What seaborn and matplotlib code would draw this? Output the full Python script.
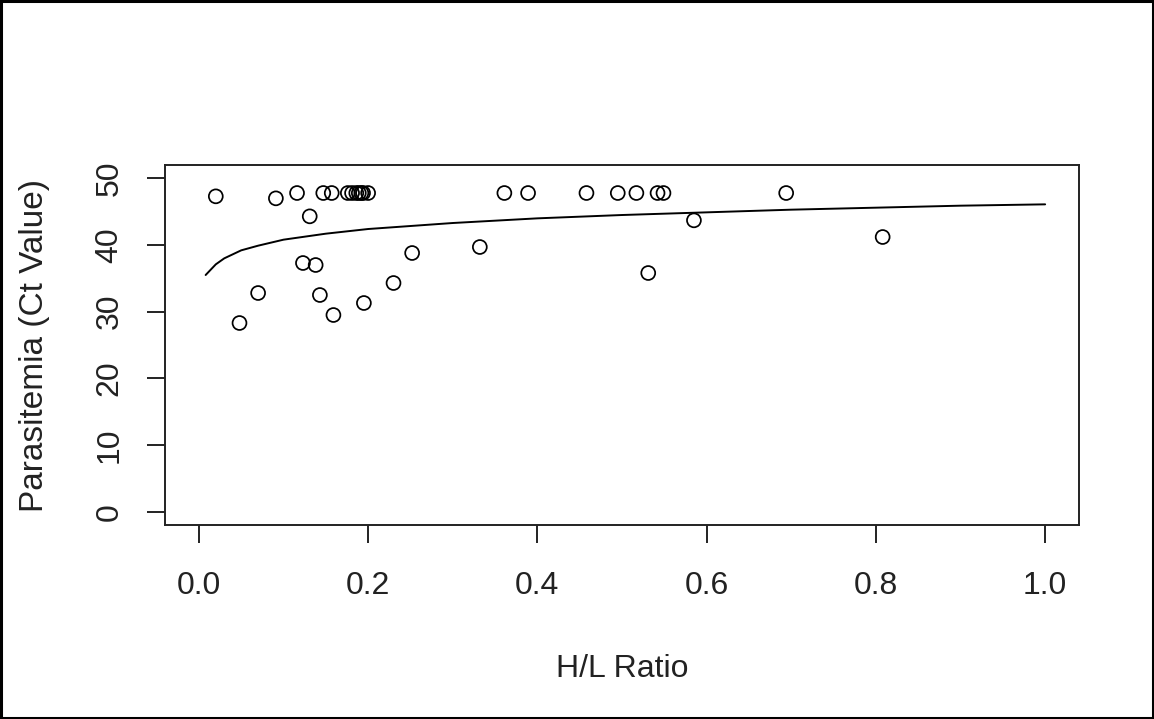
import matplotlib
matplotlib.use("Agg")
import matplotlib.pyplot as plt
import seaborn as sns
import pandas as pd
from matplotlib.patches import Rectangle

hl_ratio = [0.020, 0.048, 0.070, 0.091, 0.116, 0.123, 0.131, 0.138, 0.143, 0.147,
            0.157, 0.159, 0.176, 0.181, 0.186, 0.189, 0.192, 0.194, 0.195, 0.200,
            0.230, 0.252, 0.332, 0.361, 0.389, 0.458, 0.495, 0.517, 0.531, 0.542,
            0.549, 0.585, 0.694, 0.808]
ct_value = [47.3, 28.3, 32.8, 47.0, 47.8, 37.3, 44.3, 37.0, 32.5, 47.8,
            47.8, 29.5, 47.8, 47.8, 47.8, 47.8, 47.8, 47.8, 31.3, 47.8,
            34.3, 38.8, 39.7, 47.8, 47.8, 47.8, 47.8, 47.8, 35.8, 47.8,
            47.8, 43.7, 47.8, 41.2]

# fitted curve
curve_x = [0.008, 0.02, 0.03, 0.05, 0.07, 0.1, 0.15, 0.2, 0.3, 0.4, 0.5, 0.6, 0.7, 0.8, 0.9, 1.0]
curve_y = [35.5, 37.1, 38.0, 39.2, 39.9, 40.8, 41.7, 42.4, 43.3, 44.0, 44.5, 44.9, 45.3, 45.6, 45.9, 46.1]

x_ticks = [0.0, 0.2, 0.4, 0.6, 0.8, 1.0]
y_ticks = [0, 10, 20, 30, 40, 50]

sns.set_style("ticks")
plt.rcParams["font.family"] = ["Liberation Sans", "DejaVu Sans"]

pts = pd.DataFrame({"hl": hl_ratio, "ct": ct_value})
fit = pd.DataFrame({"hl": curve_x, "ct": curve_y})

fig = plt.figure(figsize=(11.54, 7.19), dpi=100)
ax = fig.add_axes([0.1430, 0.2698, 0.7920, 0.5007])

sns.scatterplot(data=pts, x="hl", y="ct", ax=ax, marker="o", s=100,
                facecolor="none", edgecolor="black", linewidth=1.25, zorder=3)
sns.lineplot(data=fit, x="hl", y="ct", ax=ax, color="black", linewidth=1.4,
             estimator=None, sort=True)

ax.set_xlim(-0.04, 1.04)
ax.set_ylim(-2, 52)
ax.set_xticks(x_ticks)
ax.set_xticklabels([f"{v:.1f}" for v in x_ticks])
ax.set_yticks(y_ticks)
ax.set_yticklabels([str(v) for v in y_ticks], rotation=90, va="center")
ax.tick_params(axis="both", length=13, width=1.4, color="#222222",
               labelsize=23, labelcolor="#222222")
ax.tick_params(axis="x", pad=20)
ax.tick_params(axis="y", pad=16)
for sp in ax.spines.values():
    sp.set_linewidth(1.4)
    sp.set_color("#222222")

ax.set_xlabel("H/L Ratio", fontsize=23, color="#222222", labelpad=38)
ax.set_ylabel("Parasitemia (Ct Value)", fontsize=24, color="#222222", labelpad=32)

# outer border around the whole picture
fig.patches.append(Rectangle((0.001, 0.002), 0.998, 0.996, transform=fig.transFigure,
                             fill=False, edgecolor="black", linewidth=2.2))

fig.savefig("out.png", dpi=100)
plt.close(fig)
